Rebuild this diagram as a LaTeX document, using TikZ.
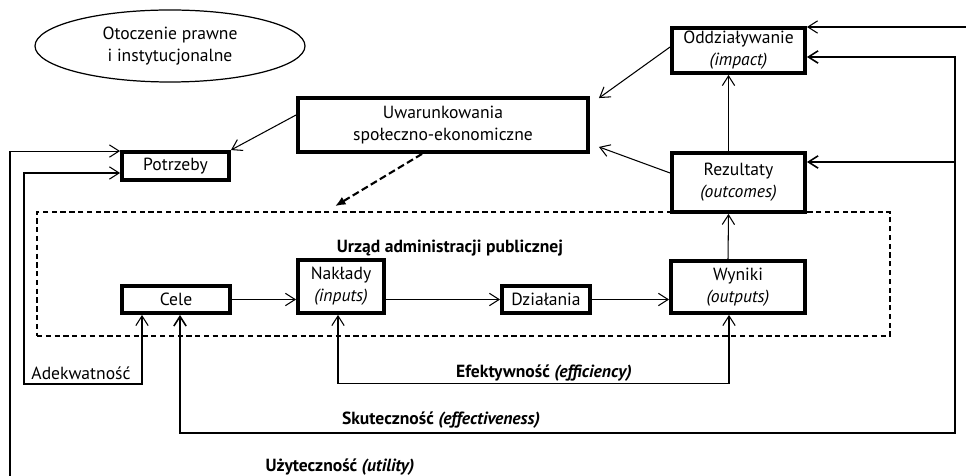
\documentclass[tikz,border=0pt]{standalone}
\usepackage{fontspec}
\setmainfont{PT Sans}
\usetikzlibrary{arrows.meta,shapes.geometric}

\begin{document}
\begin{tikzpicture}[x=0.2mm, y=-0.2mm,
    font=\fontsize{10}{12.5}\selectfont,
    box/.style={draw, line width=2.2pt, fill=white, inner sep=0pt, align=center},
    conn/.style={line width=0.6pt, -{Straight Barb[length=5.5pt,width=7pt]}},
    both/.style={line width=0.6pt, {Straight Barb[length=5.5pt,width=7pt]}-{Straight Barb[length=5.5pt,width=7pt]}},
    dasharr/.style={line width=1.2pt, dash pattern=on 4pt off 2pt, -{Latex[length=6pt,width=5pt]}},
    lbl/.style={font=\fontsize{10}{12.5}\selectfont\bfseries}]
    \useasboundingbox (0,0) rectangle (966,476);

    % dashed frame of the office
    \node[draw, line width=0.9pt, dash pattern=on 3pt off 2pt, minimum width=170.6mm, minimum height=24.8mm] (urzad) at (463.5,274) {};

    % boxes
    \node[draw, ellipse, line width=0.7pt, minimum width=54mm, minimum height=14.4mm, align=center] (otoczenie) at (170,46) {Otoczenie prawne\\i instytucjonalne};
    \node[box, minimum width=21.4mm, minimum height=5.6mm] (potrzeby) at (175.5,166) {Potrzeby};
    \node[box, minimum width=58mm, minimum height=10.8mm] (uwar) at (443,125) {Uwarunkowania\\społeczno-ekonomiczne};
    \node[box, minimum width=26.6mm, minimum height=9mm] (oddz) at (738.5,50.5) {Oddziaływanie\\\textit{(impact)}};
    \node[box, minimum width=26.6mm, minimum height=11.8mm] (rezultaty) at (738.5,182.5) {Rezultaty\\\textit{(outcomes)}};
    \node[box, minimum width=26.8mm, minimum height=10.4mm] (wyniki) at (738,287) {Wyniki\\\textit{(outputs)}};
    \node[box, minimum width=17.6mm, minimum height=5.4mm] (dzialania) at (546,299.5) {Działania};
    \node[box, minimum width=17.2mm, minimum height=10.6mm] (naklady) at (341,286.5) {Nakłady\\\textit{(inputs)}};
    \node[box, minimum width=21.6mm, minimum height=5.4mm] (cele) at (176,299.5) {Cele};

    % labels
    \node[lbl] (urzadLbl) at (450,248) {Urząd administracji publicznej};
    \node[lbl] (efekt) at (544,373) {Efektywność \textit{(efficiency)}};
    \node[lbl] (skut) at (441,420) {Skuteczność \textit{(effectiveness)}};
    \node[lbl] (uzyt) at (340,467) {Użyteczność \textit{(utility)}};
    \node (adekw) at (81,373) {Adekwatność};

    % main chain
    \draw[conn] (cele.east) -- (cele.east -| naklady.west);
    \draw[conn] (naklady.east |- dzialania.east) -- (dzialania.west);
    \draw[conn] (dzialania.east) -- (dzialania.east -| wyniki.west);
    \draw[conn] ([xshift=-2mm]wyniki.north) -- ([xshift=-2mm]rezultaty.south);
    \draw[conn] ([xshift=-2mm]rezultaty.north) -- ([xshift=-2mm]oddz.south);

    % context
    \draw[conn] ([yshift=2mm]uwar.west) -- (potrzeby.north east);
    \draw[conn] ([yshift=0.7mm]oddz.west) -- ([xshift=1.8mm,yshift=-0.4mm]uwar.north east);
    \draw[conn] ([yshift=1.9mm]rezultaty.west) -- ([xshift=1.8mm,yshift=1.4mm]uwar.south east);
    \draw[dasharr] ([xshift=-4.2mm]uwar.south) -- ([xshift=-25.7mm,yshift=1mm]urzad.north);

    % efektywnosc
    \draw[both] ([xshift=-0.6mm]naklady.south) -- ++(0,69) -| ([xshift=-1.8mm]wyniki.south);

    % skutecznosc
    \coordinate (rail) at (955,433);
    \draw[both, line width=0.9pt] ([xshift=0.8mm]cele.south) |- (rail) |- ([yshift=-1.3mm]oddz.east);
    \coordinate (rezIn) at ([yshift=4.1mm]rezultaty.east);
    \draw[conn, line width=0.9pt] (rezIn -| rail) -- (rezIn);

    % adekwatnosc
    \coordinate (adekCorner) at (24,384);
    \draw[both] ([yshift=-1.4mm]potrzeby.west) -| (adekCorner) -| ([xshift=-6.8mm]cele.south);

    % uzytecznosc
    \coordinate (utilLow) at (10,476);
    \coordinate (utilTop) at (966,27);
    \draw[conn] (utilLow) |- ([yshift=-0.2mm]potrzeby.north west);
    \draw[conn] (utilTop) -- (utilTop -| oddz.east);
\end{tikzpicture}
\end{document}
